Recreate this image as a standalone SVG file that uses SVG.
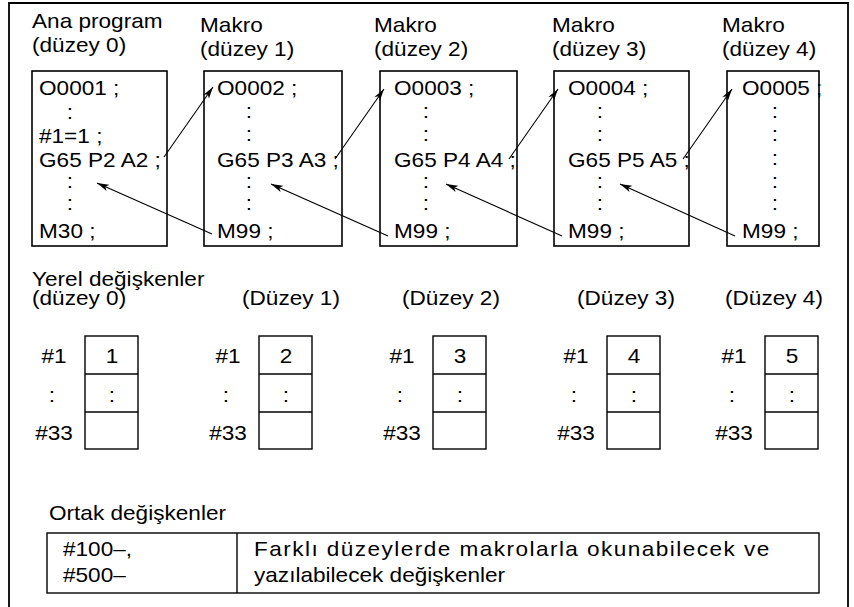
<svg xmlns="http://www.w3.org/2000/svg" width="854" height="607" viewBox="0 0 854 607">
<style>
text{font-family:"Liberation Sans",Arial,Helvetica,sans-serif;font-size:20px;fill:#000}
.m{text-anchor:middle}
.box{fill:none;stroke:#000;stroke-width:1.6}
.cell{fill:none;stroke:#000;stroke-width:1.4}
.arr{fill:none;stroke:#000;stroke-width:1.1;marker-end:url(#ah)}
</style>
<defs>
<marker id="ah" viewBox="0 0 12 8" refX="12" refY="4" markerWidth="12" markerHeight="8" markerUnits="userSpaceOnUse" orient="auto">
<path d="M0,0.6 L12,4 L0,7.4 L3,4 Z" fill="#000"/>
</marker>
</defs>
<rect width="854" height="607" fill="#fff"/>
<path d="M9,607 V3 H848 V607" fill="none" stroke="#000" stroke-width="1.8"/>

<g id="main">
<text transform="matrix(1.13 0 0 1 32 28)">Ana program</text>
<text transform="matrix(1.13 0 0 1 32 52)">(düzey 0)</text>
<rect class="box" x="32" y="71" width="135" height="175"/>
<text transform="matrix(1.13 0 0 1 39 95)">O0001 ;</text>
<text class="m" transform="matrix(1.13 0 0 1 70 119)">:</text>
<text transform="matrix(1.13 0 0 1 39 143)">#1=1 ;</text>
<text transform="matrix(1.13 0 0 1 39 167)">G65 P2 A2 ;</text>
<text class="m" transform="matrix(1.13 0 0 1 70 188)">:</text>
<text class="m" transform="matrix(1.13 0 0 1 70 210)">:</text>
<text transform="matrix(1.13 0 0 1 39 238)">M30 ;</text>
</g>

<g id="macro1">
<text transform="matrix(1.13 0 0 1 200 32)">Makro</text>
<text transform="matrix(1.13 0 0 1 200 56)">(düzey 1)</text>
<rect class="box" x="204" y="71" width="138" height="175"/>
<text transform="matrix(1.13 0 0 1 217 95)">O0002 ;</text>
<text class="m" transform="matrix(1.13 0 0 1 249 118)">:</text>
<text class="m" transform="matrix(1.13 0 0 1 249 141)">:</text>
<text transform="matrix(1.13 0 0 1 217 167)">G65 P3 A3 ;</text>
<text class="m" transform="matrix(1.13 0 0 1 249 188)">:</text>
<text class="m" transform="matrix(1.13 0 0 1 249 210)">:</text>
<text transform="matrix(1.13 0 0 1 217 238)">M99 ;</text>
</g>

<g id="macro2">
<text transform="matrix(1.13 0 0 1 374 32)">Makro</text>
<text transform="matrix(1.13 0 0 1 374 56)">(düzey 2)</text>
<rect class="box" x="380" y="71" width="137" height="175"/>
<text transform="matrix(1.13 0 0 1 394 95)">O0003 ;</text>
<text class="m" transform="matrix(1.13 0 0 1 426 118)">:</text>
<text class="m" transform="matrix(1.13 0 0 1 426 141)">:</text>
<text transform="matrix(1.13 0 0 1 394 167)">G65 P4 A4 ;</text>
<text class="m" transform="matrix(1.13 0 0 1 426 188)">:</text>
<text class="m" transform="matrix(1.13 0 0 1 426 210)">:</text>
<text transform="matrix(1.13 0 0 1 394 238)">M99 ;</text>
</g>

<g id="macro3">
<text transform="matrix(1.13 0 0 1 552 32)">Makro</text>
<text transform="matrix(1.13 0 0 1 552 56)">(düzey 3)</text>
<rect class="box" x="554" y="71" width="135" height="175"/>
<text transform="matrix(1.13 0 0 1 568 95)">O0004 ;</text>
<text class="m" transform="matrix(1.13 0 0 1 600 118)">:</text>
<text class="m" transform="matrix(1.13 0 0 1 600 141)">:</text>
<text transform="matrix(1.13 0 0 1 568 167)">G65 P5 A5 ;</text>
<text class="m" transform="matrix(1.13 0 0 1 600 188)">:</text>
<text class="m" transform="matrix(1.13 0 0 1 600 210)">:</text>
<text transform="matrix(1.13 0 0 1 568 238)">M99 ;</text>
</g>

<g id="macro4">
<text transform="matrix(1.13 0 0 1 722 32)">Makro</text>
<text transform="matrix(1.13 0 0 1 722 56)">(düzey 4)</text>
<rect class="box" x="727" y="71" width="92" height="175"/>
<text transform="matrix(1.13 0 0 1 742 95)">O0005 ;</text>
<text class="m" transform="matrix(1.13 0 0 1 775 118)">:</text>
<text class="m" transform="matrix(1.13 0 0 1 775 141)">:</text>
<text class="m" transform="matrix(1.13 0 0 1 775 165)">:</text>
<text class="m" transform="matrix(1.13 0 0 1 775 188)">:</text>
<text class="m" transform="matrix(1.13 0 0 1 775 210)">:</text>
<text transform="matrix(1.13 0 0 1 742 238)">M99 ;</text>
</g>

<g id="connectors">
<line class="arr" x1="164" y1="157" x2="213" y2="87"/>
<line class="arr" x1="335" y1="159" x2="384" y2="89"/>
<line class="arr" x1="509" y1="159" x2="558" y2="89"/>
<line class="arr" x1="683" y1="159" x2="732" y2="89"/>
<line class="arr" x1="212" y1="234" x2="97" y2="183"/>
<line class="arr" x1="388" y1="236" x2="271" y2="184"/>
<line class="arr" x1="562" y1="236" x2="446" y2="184"/>
<line class="arr" x1="735" y1="236" x2="620" y2="184"/>
</g>

<g id="local-title">
<text transform="matrix(1.13 0 0 1 32 286)">Yerel değişkenler</text>
<text transform="matrix(1.13 0 0 1 32 305)">(düzey 0)</text>
</g>

<g id="local0">
<rect class="cell" x="85" y="336" width="53" height="113"/>
<line class="cell" x1="85" y1="374" x2="138" y2="374"/>
<line class="cell" x1="85" y1="412" x2="138" y2="412"/>
<text class="m" transform="matrix(1.13 0 0 1 54 363)">#1</text>
<text class="m" transform="matrix(1.13 0 0 1 52 402)">:</text>
<text class="m" transform="matrix(1.13 0 0 1 54 440)">#33</text>
<text class="m" transform="matrix(1.13 0 0 1 112 363)">1</text>
<text class="m" transform="matrix(1.13 0 0 1 112 402)">:</text>
</g>

<g id="local1">
<text transform="matrix(1.13 0 0 1 242 305)">(Düzey 1)</text>
<rect class="cell" x="259" y="336" width="53" height="113"/>
<line class="cell" x1="259" y1="374" x2="312" y2="374"/>
<line class="cell" x1="259" y1="412" x2="312" y2="412"/>
<text class="m" transform="matrix(1.13 0 0 1 228 363)">#1</text>
<text class="m" transform="matrix(1.13 0 0 1 226 402)">:</text>
<text class="m" transform="matrix(1.13 0 0 1 228 440)">#33</text>
<text class="m" transform="matrix(1.13 0 0 1 286 363)">2</text>
<text class="m" transform="matrix(1.13 0 0 1 286 402)">:</text>
</g>

<g id="local2">
<text transform="matrix(1.13 0 0 1 402 305)">(Düzey 2)</text>
<rect class="cell" x="433" y="336" width="53" height="113"/>
<line class="cell" x1="433" y1="374" x2="486" y2="374"/>
<line class="cell" x1="433" y1="412" x2="486" y2="412"/>
<text class="m" transform="matrix(1.13 0 0 1 402 363)">#1</text>
<text class="m" transform="matrix(1.13 0 0 1 400 402)">:</text>
<text class="m" transform="matrix(1.13 0 0 1 402 440)">#33</text>
<text class="m" transform="matrix(1.13 0 0 1 460 363)">3</text>
<text class="m" transform="matrix(1.13 0 0 1 460 402)">:</text>
</g>

<g id="local3">
<text transform="matrix(1.13 0 0 1 577 305)">(Düzey 3)</text>
<rect class="cell" x="607" y="336" width="53" height="113"/>
<line class="cell" x1="607" y1="374" x2="660" y2="374"/>
<line class="cell" x1="607" y1="412" x2="660" y2="412"/>
<text class="m" transform="matrix(1.13 0 0 1 576 363)">#1</text>
<text class="m" transform="matrix(1.13 0 0 1 574 402)">:</text>
<text class="m" transform="matrix(1.13 0 0 1 576 440)">#33</text>
<text class="m" transform="matrix(1.13 0 0 1 634 363)">4</text>
<text class="m" transform="matrix(1.13 0 0 1 634 402)">:</text>
</g>

<g id="local4">
<text transform="matrix(1.13 0 0 1 725 305)">(Düzey 4)</text>
<rect class="cell" x="765" y="336" width="53" height="113"/>
<line class="cell" x1="765" y1="374" x2="818" y2="374"/>
<line class="cell" x1="765" y1="412" x2="818" y2="412"/>
<text class="m" transform="matrix(1.13 0 0 1 734 363)">#1</text>
<text class="m" transform="matrix(1.13 0 0 1 732 402)">:</text>
<text class="m" transform="matrix(1.13 0 0 1 734 440)">#33</text>
<text class="m" transform="matrix(1.13 0 0 1 792 363)">5</text>
<text class="m" transform="matrix(1.13 0 0 1 792 402)">:</text>
</g>

<g id="common">
<text transform="matrix(1.13 0 0 1 49 520)">Ortak değişkenler</text>
<rect class="cell" x="47" y="533" width="772" height="60"/>
<line class="cell" x1="237" y1="533" x2="237" y2="593"/>
<text transform="matrix(1.13 0 0 1 63 556)">#100–,</text>
<text transform="matrix(1.13 0 0 1 63 582)">#500–</text>
<text transform="matrix(1.13 0 0 1 254 556)" textLength="456" lengthAdjust="spacing">Farklı düzeylerde makrolarla okunabilecek ve</text>
<text transform="matrix(1.13 0 0 1 254 582)">yazılabilecek değişkenler</text>
</g>
</svg>
